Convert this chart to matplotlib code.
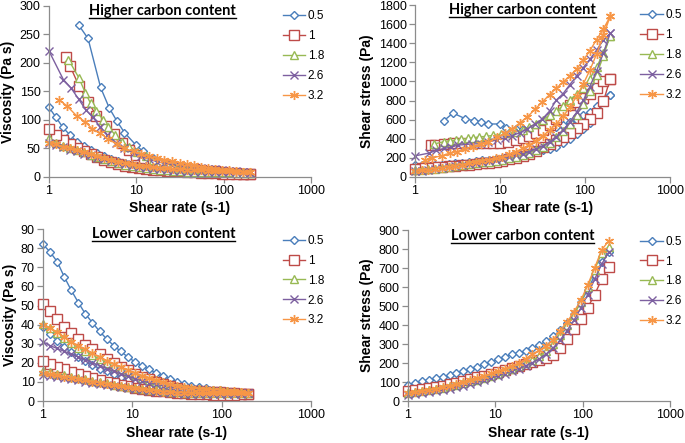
import numpy as np
import matplotlib.pyplot as plt
from matplotlib.lines import Line2D

# shear-rate grid of the sweeps (s-1)
rate = [1.0, 1.2, 1.44, 1.73, 2.07, 2.49, 2.99, 3.58, 4.3, 5.16, 6.19, 7.43, 8.92, 10.7, 12.8,
        15.4, 18.5, 22.2, 26.6, 31.9, 38.3, 46.0, 55.2, 66.2, 79.5, 95.4, 114, 137, 165, 198]

labels = ['0.5', '1', '1.8', '2.6', '3.2']

# ---- higher carbon content: first sweep (own shear rates) ----
hi_x_up = [
    [2.2, 2.8, 3.9, 4.9, 6.0, 7.3, 9.9, 11.9, 15.4, 18.5, 22.2, 26.6, 31.9, 38.3, 46.0, 55.2, 66.2, 79.5, 95.4, 114, 137, 165, 198],
    [1.56, 1.74, 2.2, 2.8, 3.5, 4.5, 5.5, 6.8, 8.2, 10.0, 12.4, 15.4, 18.5, 22.2, 26.6, 31.9, 38.3, 46.0, 55.2, 66.2, 79.5, 95.4, 114, 137, 165, 198],
    [1.67, 2.2, 2.6, 3.0, 3.5, 4.2, 4.8, 5.7, 6.8, 8.2, 10.2, 12.8, 15.4, 18.5, 22.2, 26.6, 31.9, 38.3, 46.0, 55.2, 66.2, 79.5, 95.4, 114, 137, 165, 198],
    [1.0, 1.46, 1.79, 2.2, 2.66, 3.18, 3.85, 4.67, 5.9, 7.3, 9.3, 11.4, 14.0, 17.2, 21.0, 25.7, 31.4, 38.3, 46.0, 55.2, 66.2, 79.5, 95.4, 114, 137, 165, 198],
    [1.31, 1.6, 2.08, 2.59, 3.1, 3.85, 4.8, 6.0, 7.3, 9.3, 11.4, 14.0, 17.2, 21.0, 25.7, 31.4, 38.3, 46.0, 55.2, 66.2, 79.5, 95.4, 114, 137, 165, 198],
]
hi_visc_up = [
    [266, 243, 157, 121, 98, 78, 56, 45, 33, 27, 22.5, 19, 16, 13.3, 11.3, 9.8, 8.7, 7.6, 6.8, 6.0, 5.4, 4.9, 4.4],
    [210, 195, 160, 132, 107, 89, 75, 60, 47, 38, 30, 25, 22, 19.5, 17.5, 15.5, 14.1, 13.3, 12.8, 11.3, 9.9, 8.7, 7.6, 6.8, 6.1, 5.2],
    [206, 174, 148, 129, 115, 100, 88, 74, 62, 53, 44, 36, 30.5, 26.5, 23.5, 21, 18.8, 16.8, 15, 13.5, 12.2, 11, 9.9, 9.0, 8.5, 8.0, 7.5],
    [221, 171, 156, 136, 117, 105, 88, 74, 59, 50, 42, 36, 31, 27, 24, 21.5, 19.3, 18, 17.5, 15.8, 14.6, 13.3, 12.0, 10.8, 9.7, 8.7, 7.6],
    [135, 125, 107, 97, 85, 77, 66, 58, 50, 45, 40, 36, 33, 30, 27.5, 25, 22.5, 20.2, 18, 16, 14.2, 12.8, 11.6, 10.5, 9.4, 8.5],
]
hi_stress_up = [
    [590, 670, 610, 590, 580, 555, 555, 515, 500, 500, 500, 505, 510, 510, 520, 540, 575, 600, 650, 685, 740, 800, 860],
    [330, 340, 350, 355, 355, 355, 355, 355, 355, 360, 370, 387, 410, 433, 465, 494, 540, 610, 705, 750, 790, 830, 870, 935, 1000, 1030],
    [345, 370, 380, 385, 395, 405, 410, 420, 425, 435, 445, 460, 475, 495, 525, 560, 600, 645, 690, 745, 805, 870, 935, 1030, 1150, 1300, 1480],
    [221, 250, 279, 299, 311, 334, 339, 346, 348, 365, 391, 410, 434, 464, 504, 553, 606, 690, 805, 872, 966, 1057, 1145, 1231, 1329, 1436, 1505],
    [177, 200, 223, 251, 264, 296, 317, 348, 365, 419, 456, 504, 568, 630, 707, 785, 862, 929, 994, 1059, 1129, 1221, 1322, 1439, 1551, 1683],
]
# ---- higher carbon content: second sweep (on rate grid) ----
hi_visc_dn = [
    [122, 105, 87, 74, 62, 55, 48, 42, 37, 32, 28, 24.5, 21.5, 18.5, 16.5, 14.5, 12.7, 11.2, 9.9, 8.8, 7.6, 6.9, 6.4, 6.0, 5.6, 5.3, 5.0, 4.8, 4.7, 4.4],
    [85, 74, 65, 58, 51, 45, 40, 35, 30, 26, 23, 20, 18, 16, 14.5, 13, 12, 11, 10.3, 9.8, 9.0, 8.4, 7.6, 7.0, 6.4, 5.8, 5.3, 4.9, 4.8, 5.2],
    [68, 60, 55, 51, 47, 43, 39, 35, 31, 27.5, 24.5, 21.5, 19, 17, 15.2, 13.6, 12.4, 11.4, 10.6, 10.0, 9.4, 9.0, 8.7, 8.4, 8.2, 8.0, 7.9, 7.8, 7.7, 7.5],
    [60, 56, 52, 48, 45, 41, 38, 34, 31, 28, 25, 22.5, 20, 18, 16.2, 14.6, 13.2, 12, 11, 10.2, 9.6, 9.2, 8.9, 8.7, 8.5, 8.4, 8.3, 8.1, 7.9, 7.6],
    [60, 57, 53, 50, 47, 43, 40, 36, 33, 30, 27, 24.5, 22, 20, 18.5, 17.2, 16.2, 15.2, 14.3, 13.5, 12.8, 12.1, 11.5, 11, 10.6, 10.2, 9.8, 9.4, 9.0, 8.5],
]
hi_stress_dn = [
    [122, 126, 126, 128, 130, 137, 144, 150, 158, 165, 173, 182, 192, 200, 211, 223, 235, 250, 263, 281, 291, 317, 353, 395, 445, 505, 570, 660, 780, 860],
    [85, 89, 94, 100, 106, 112, 120, 125, 129, 134, 142, 149, 161, 171, 186, 200, 222, 244, 274, 313, 345, 386, 420, 463, 509, 553, 604, 671, 792, 1030],
    [68, 72, 79, 88, 97, 107, 117, 125, 133, 142, 152, 160, 169, 182, 195, 209, 229, 253, 282, 319, 360, 414, 480, 556, 652, 763, 900, 1070, 1270, 1480],
    [60, 67, 75, 83, 93, 102, 114, 122, 133, 144, 155, 167, 178, 193, 207, 225, 244, 266, 293, 325, 368, 423, 491, 576, 676, 801, 946, 1110, 1300, 1505],
    [60, 68, 76, 87, 97, 107, 120, 129, 142, 155, 167, 182, 196, 214, 237, 265, 300, 337, 380, 431, 490, 557, 635, 728, 843, 973, 1117, 1288, 1485, 1683],
]

# ---- lower carbon content (both sweeps on rate grid) ----
lo_visc_up = [
    [82, 78, 73, 65, 58, 51.5, 45.5, 41, 36.5, 32.5, 29, 26, 23, 20.5, 18.5, 16.5, 14.7, 13, 11.5, 10.2, 9.0, 8.1, 7.3, 6.6, 6.0, 5.5, 5.0, 4.6, 4.25, 3.95],
    [51, 47, 43, 39, 35.5, 32.5, 29.5, 27, 24.5, 22, 20, 18, 16, 14.3, 12.8, 11.4, 10.2, 9.1, 8.1, 7.0, 6.0, 5.3, 5.1, 4.9, 4.7, 4.5, 4.2, 4.0, 3.9, 3.55],
    [40.5, 38, 35.5, 33, 30.5, 28, 26, 24, 22, 20, 18.2, 16.5, 15, 13.5, 12.2, 11, 10, 9, 8.1, 7.4, 6.9, 6.4, 6.1, 5.9, 5.7, 5.6, 5.1, 4.8, 4.5, 4.1],
    [31, 29, 27.5, 26, 24.5, 23, 21.5, 20, 18.5, 17, 15.5, 14.2, 12.9, 11.7, 10.6, 9.6, 8.7, 7.9, 7.1, 6.6, 6.2, 5.9, 5.7, 5.5, 5.4, 5.3, 4.9, 4.6, 4.3, 3.95],
    [40, 38, 36, 33.5, 31, 29, 27, 25, 23, 21.2, 19.5, 17.8, 16.2, 14.7, 13.3, 12, 10.8, 9.7, 8.7, 7.9, 7.3, 6.8, 6.4, 6.1, 5.9, 5.8, 5.4, 5.0, 4.6, 4.25],
]
lo_visc_dn = [
    [39, 35, 31.5, 28.5, 25.5, 23, 21, 19, 17, 15.5, 14, 12.5, 11.2, 10, 9, 8.1, 7.3, 6.6, 6.0, 5.5, 5.1, 4.8, 4.5, 4.3, 4.1, 4.0, 3.95, 3.9, 3.9, 3.95],
    [21, 19.5, 18, 16.5, 15, 14, 13, 12, 11, 10, 9.2, 8.4, 7.7, 7, 6.4, 5.9, 5.4, 5, 4.6, 4.3, 4.0, 3.8, 3.6, 3.5, 3.4, 3.4, 3.4, 3.4, 3.5, 3.55],
    [15.5, 15, 14.3, 13.5, 12.8, 12, 11.3, 10.6, 9.9, 9.2, 8.6, 8, 7.4, 6.9, 6.4, 5.9, 5.5, 5.1, 4.8, 4.5, 4.3, 4.1, 4.0, 4.0, 4.0, 4.0, 4.0, 4.0, 4.0, 4.1],
    [13.5, 13, 12.5, 12, 11.4, 10.8, 10.2, 9.6, 9, 8.4, 7.8, 7.2, 6.7, 6.2, 5.7, 5.3, 4.9, 4.6, 4.3, 4.1, 3.9, 3.8, 3.7, 3.7, 3.7, 3.7, 3.7, 3.7, 3.8, 3.95],
    [14.5, 14, 13.4, 12.8, 12.2, 11.5, 10.8, 10.1, 9.5, 8.9, 8.3, 7.7, 7.1, 6.6, 6.1, 5.7, 5.3, 4.9, 4.6, 4.4, 4.2, 4.1, 4.0, 4.0, 4.0, 4.1, 4.1, 4.2, 4.2, 4.25],
]
lo_stress = [
    [82, 94, 105, 112, 120, 128, 136, 147, 157, 168, 180, 193, 205, 219, 232, 245, 255, 262, 278, 295, 315, 340, 372, 412, 460, 520, 585, 660, 730, 782],
    [51, 56, 62, 67, 73, 81, 88, 97, 105, 114, 124, 134, 143, 153, 164, 176, 186, 196, 206, 215, 226, 244, 280, 325, 377, 430, 490, 560, 640, 707],
    [40.5, 46, 51, 57, 63, 70, 78, 86, 95, 103, 113, 123, 134, 144, 156, 169, 185, 200, 215, 236, 265, 300, 345, 400, 455, 520, 600, 690, 780, 812],
    [31, 35, 40, 45, 51, 57, 64, 72, 80, 88, 98, 108, 120, 132, 144, 157, 171, 186, 202, 222, 248, 280, 320, 370, 425, 490, 560, 640, 720, 782],
    [40, 46, 52, 58, 64, 72, 81, 90, 99, 109, 121, 132, 145, 157, 170, 185, 200, 220, 245, 268, 290, 322, 370, 415, 470, 530, 610, 700, 795, 842],
]

colors = ['#4A7EBB', '#BE4B48', '#98B954', '#7D60A0', '#F79646']
markers = ['D', 's', '^', 'x', (6, 2, 0)]
msizes = [4.4, 6.5, 6.0, 5.5, 6.5]

plt.rcParams['font.family'] = ['Liberation Sans', 'DejaVu Sans']

fig = plt.figure(figsize=(6.85, 4.43), dpi=100)

# axes rectangles in figure fraction
ax_tl = fig.add_axes([0.0715, 0.6005, 0.3825, 0.386])
ax_tr = fig.add_axes([0.6058, 0.6005, 0.3723, 0.388])
ax_bl = fig.add_axes([0.0628, 0.0948, 0.391, 0.388])
ax_br = fig.add_axes([0.5956, 0.0948, 0.3825, 0.386])


def style_axes(ax, ymax, ystep, ylabel, title, title_x, title_y, leg_x, leg_y):
    ax.set_xscale('log')
    ax.set_xlim(1, 1000)
    ax.set_ylim(0, ymax)
    ax.set_xticks([1, 10, 100, 1000])
    ax.set_xticklabels(['1', '10', '100', '1000'])
    ax.xaxis.set_minor_locator(plt.NullLocator())
    ax.set_yticks(np.arange(0, ymax + 1, ystep))
    for s in ['top', 'right']:
        ax.spines[s].set_visible(False)
    for s in ['left', 'bottom']:
        ax.spines[s].set_color('#8C8C8C')
        ax.spines[s].set_linewidth(0.9)
    ax.tick_params(axis='both', colors='#8C8C8C', labelcolor='black', labelsize=9,
                   length=4, width=0.9, direction='out', pad=2)
    ax.set_xlabel('Shear rate (s-1)', fontsize=10, fontweight='bold', labelpad=3)
    ax.set_ylabel(ylabel, fontsize=10, fontweight='bold', labelpad=3)
    ax.patch.set_alpha(0)
    t = ax.text(title_x, title_y, title, transform=ax.transAxes, ha='center', va='baseline',
                fontsize=10.5, fontweight='bold', family=['Lato', 'DejaVu Sans'])
    handles = [Line2D([], [], color=c, marker=m, ms=ms, mfc='white', mec=c, lw=1.0, mew=1.0)
               for c, m, ms in zip(colors, markers, msizes)]
    ax.legend(handles, labels, loc='upper left', bbox_to_anchor=(leg_x, leg_y), frameon=False,
              fontsize=8.5, handlelength=1.9, handletextpad=0.2, labelspacing=0.67,
              borderpad=0.0, borderaxespad=0.0)
    return ax, t


def draw_series(ax, xs, ys, i):
    ax.plot(xs, ys, color=colors[i], marker=markers[i], ms=msizes[i], mfc='white',
            mec=colors[i], mew=1.0, lw=1.0, clip_on=False)


for i in range(5):
    # higher carbon: first sweep then second sweep back down
    draw_series(ax_tl, hi_x_up[i] + rate[::-1], hi_visc_up[i] + hi_visc_dn[i][::-1], i)
    draw_series(ax_tr, hi_x_up[i] + rate[::-1], hi_stress_up[i] + hi_stress_dn[i][::-1], i)
    draw_series(ax_bl, rate + rate[::-1], lo_visc_up[i] + lo_visc_dn[i][::-1], i)
    draw_series(ax_br, rate, lo_stress[i], i)

titles = [
    style_axes(ax_tl, 300, 50, 'Viscosity (Pa s)', 'Higher carbon content', 0.433, 0.947, 0.893, 0.975),
    style_axes(ax_tr, 1800, 200, 'Shear stress (Pa)', 'Higher carbon content', 0.422, 0.947, 0.884, 0.975),
    style_axes(ax_bl, 90, 10, 'Viscosity (Pa s)', 'Lower carbon content', 0.449, 0.949, 0.896, 0.967),
    style_axes(ax_br, 900, 100, 'Shear stress (Pa)', 'Lower carbon content', 0.437, 0.942, 0.887, 0.967),
]

# underline the panel titles, a little below the baseline
fig.canvas.draw()
inv = fig.transFigure.inverted()
for ax, t in titles:
    bb = t.get_window_extent()
    bx, by = ax.transAxes.transform(t.get_position())
    (x0, y0), (x1, _) = inv.transform([[bb.x0, by - 2.8], [bb.x1, by]])
    fig.add_artist(Line2D([x0, x1], [y0, y0], color='black', lw=1.0, transform=fig.transFigure))

fig.savefig('out.png', dpi=100)
